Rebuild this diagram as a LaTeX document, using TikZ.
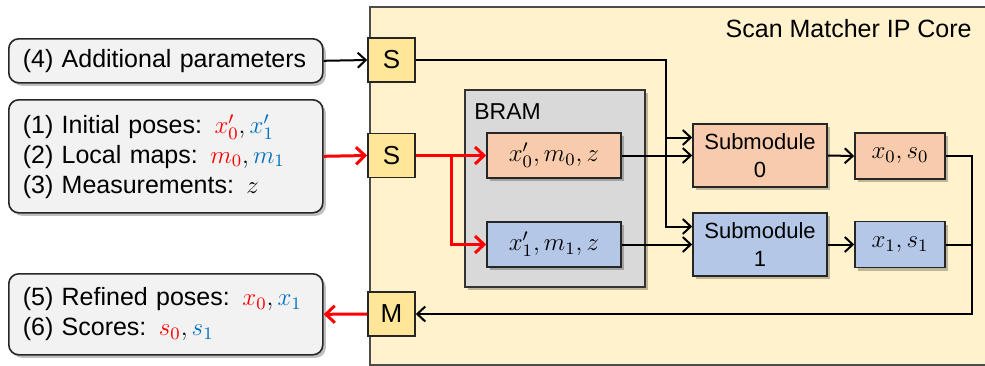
\documentclass[tikz,border=0pt]{standalone}
\usepackage{fix-cm}
\usepackage{fontspec}
\setmainfont{Liberation Sans}
\usetikzlibrary{arrows.meta,shadows,calc}
\definecolor{corefill}{HTML}{FFF2CC}
\definecolor{sfill}{HTML}{FFE699}
\definecolor{lfill}{HTML}{F2F2F2}
\definecolor{bramfill}{HTML}{D9D9D9}
\definecolor{orfill}{HTML}{F8CBAD}
\definecolor{blfill}{HTML}{B4C7E7}
\definecolor{myred}{HTML}{FF0000}
\definecolor{myblue}{HTML}{0070C0}
\tikzset{
  shad/.style={drop shadow={shadow xshift=1.5pt,shadow yshift=-1.5pt,opacity=0.25,fill=black}},
  corebox/.style={draw=black!70,line width=0.8pt,fill=corefill,inner sep=0pt},
  infobox/.style={draw=black!85,line width=0.8pt,fill=lfill,rounded corners=5pt,shad,
    align=left,text width=143pt,inner xsep=7pt,inner ysep=0pt,anchor=north west,
    font=\fontsize{12.5}{15}\selectfont},
  portbox/.style={draw=black!85,line width=0.8pt,fill=sfill,minimum width=23.5pt,minimum height=22pt,
    inner sep=0pt,font=\fontsize{13}{15}\selectfont},
  brambox/.style={draw=black!80,line width=0.8pt,fill=bramfill,shad,inner sep=0pt},
  databox/.style={draw=black!85,line width=0.8pt,shad,minimum width=67pt,minimum height=22.5pt,
    inner sep=0pt,font=\fontsize{12.5}{15}\selectfont},
  subbox/.style={draw=black!85,line width=0.8pt,shad,minimum width=67pt,minimum height=31.5pt,
    inner sep=0pt,align=center,font=\fontsize{11}{14}\selectfont},
  resbox/.style={draw=black!85,line width=0.8pt,shad,minimum width=45pt,minimum height=23pt,
    inner sep=0pt,font=\fontsize{12.5}{15}\selectfont},
  arr/.style={line width=1pt,-{Straight Barb[length=4pt,width=7.5pt,line width=1pt]}},
  ln/.style={line width=1pt},
  rarr/.style={line width=1.5pt,myred,-{Straight Barb[length=4.5pt,width=8.5pt,line width=1.5pt]}},
  rln/.style={line width=1.5pt,myred},
}
\begin{document}
\begin{tikzpicture}[x=0.5pt,y=-0.5pt]
\clip (0,0) rectangle (985,365);
% IP core
\node[corebox,anchor=north west,minimum width=312pt,minimum height=179pt] (core) at (369,6) {};
\node[anchor=east,inner sep=0pt,font=\fontsize{12.5}{15}\selectfont] (title) at (972,29) {Scan Matcher IP Core};
% left boxes
\node[infobox,minimum height=22pt] (p4) at (8,38) {(4) Additional parameters};
\node[infobox,minimum height=56.5pt] (p123) at (8,99) {(1) Initial poses: $\textcolor{myred}{x'_0},\textcolor{myblue}{x'_1}$\\
(2) Local maps: $\textcolor{myred}{m_0},\textcolor{myblue}{m_1}$\\
(3) Measurements: $z$};
\node[infobox,minimum height=40.5pt] (p56) at (8,273) {(5) Refined poses: $\textcolor{myred}{x_0},\textcolor{myblue}{x_1}$\\
(6) Scores: $\textcolor{myred}{s_0},\textcolor{myblue}{s_1}$};
% ports
\node[portbox] (S1) at (391.5,60) {S};
\node[portbox] (S2) at (391.5,155.5) {S};
\node[portbox] (M) at (391.5,314) {M};
% BRAM
\node[brambox,anchor=north west,minimum width=90pt,minimum height=98.5pt] (bram) at (464,89) {};
\node[anchor=base west,inner sep=0pt,font=\fontsize{11.5}{14}\selectfont] (bramlbl) at (474,119) {BRAM};
\node[databox,fill=orfill] (d0) at (554,155.5) {$x'_0,m_0,z$};
\node[databox,fill=blfill] (d1) at (554,244.5) {$x'_1,m_1,z$};
% submodules
\node[subbox,fill=orfill] (sub0) at (760,155.5) {Submodule\\0};
\node[subbox,fill=blfill] (sub1) at (760,244.5) {Submodule\\1};
% results
\node[resbox,fill=orfill] (r0) at (900,156) {$x_0,s_0$};
\node[resbox,fill=blfill] (r1) at (900,244.5) {$x_1,s_1$};
% helper coordinates
\coordinate (jx) at (666,0);
\coordinate (rx) at (972,0);
\coordinate (redx) at (451,0);
\coordinate (in0) at ([yshift=9pt]sub0.west);
\coordinate (in1) at ([yshift=9pt]sub1.west);
% connectors
\draw[arr] (p4.east) -- (S1.west);
\draw[rarr] (p123.east) -- (S2.west);
\draw[rarr] (M.west) -- (p56.east);
\draw[arr] (S1.east) -| (in1 -| jx) -- (in1);
\draw[arr] (in0 -| jx) -- (in0);
\draw[rarr] (S2.east) -- (d0.west);
\draw[rarr] (S2.east -| redx) |- (d1.west);
\draw[arr] (d0.east) -- (sub0.west);
\draw[arr] (d1.east) -- (sub1.west);
\draw[arr] (sub0.east) -- (r0.west);
\draw[arr] (sub1.east) -- (r1.west);
\draw[arr] (r0.east) -| (M.east -| rx) -- (M.east);
\draw[ln] (r1.east) -- (r1.east -| rx);
\end{tikzpicture}
\end{document}
